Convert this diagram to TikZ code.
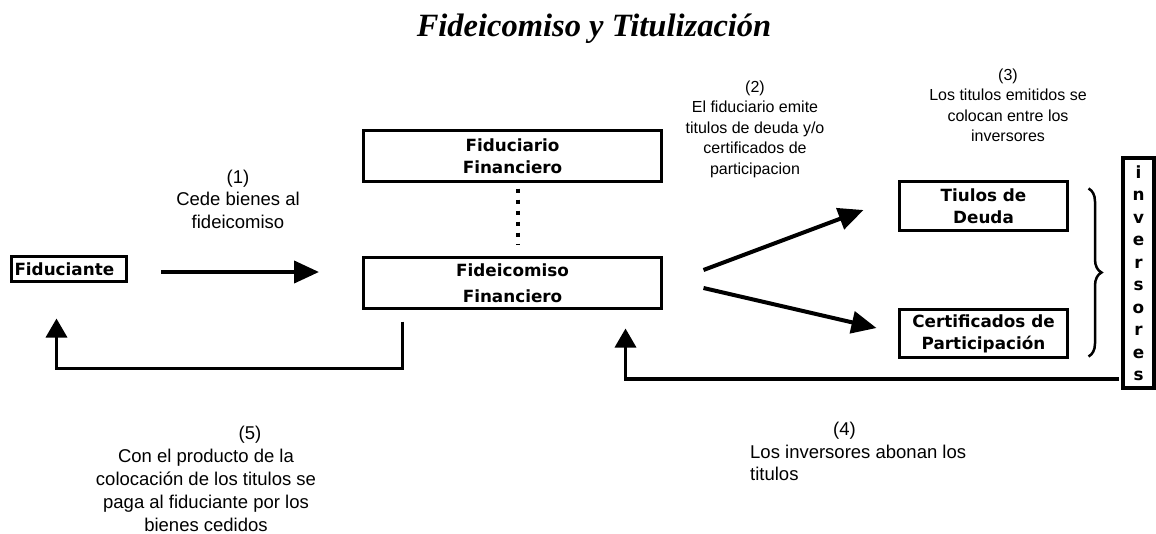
\documentclass[tikz,border=0pt]{standalone}
\usepackage{fontspec}
\setmainfont{Liberation Sans}
\newfontfamily\titulo{Liberation Serif}
\newfontfamily\cajafont{DejaVu Sans}
\usetikzlibrary{arrows.meta,decorations.pathreplacing}

\begin{document}
\begin{tikzpicture}[x=1pt,y=-1pt,
    caja/.style={draw,line width=3pt,inner sep=0pt,align=center,
      font=\cajafont\bfseries\fontsize{16.8}{22}\selectfont},
    nota/.style={inner sep=0pt,align=center,font=\fontsize{18.5}{22.5}\selectfont},
    notachica/.style={inner sep=0pt,align=center,font=\fontsize{16}{20.5}\selectfont},
    flecha/.style={line width=4pt,-{Triangle[length=25pt,width=22pt]}},
    retorno/.style={line width=3.5pt,-{Triangle[length=19pt,width=21pt]}}]
\useasboundingbox (0,0) rectangle (1156,533);
\node[font=\titulo\bfseries\itshape\fontsize{32.5}{38}\selectfont] (titulo) at (594,29)
  {Fideicomiso y Titulización};

% cajas
\node[caja,text width=109pt,align=left,inner xsep=3pt,minimum height=25pt]
  (fiduciante) at (69,269) {Fiduciante};
\node[caja,minimum width=298pt,minimum height=51pt] (fiduciario) at (512.5,156)
  {Fiduciario\\Financiero};
\node[caja,minimum width=298pt,minimum height=51pt,
  font=\cajafont\bfseries\fontsize{16.8}{26}\selectfont] (fideicomiso) at (512.5,283)
  {Fideicomiso\\Financiero};
\node[caja,minimum width=168pt,minimum height=49pt] (deuda) at (983.5,206)
  {Tiulos de\\Deuda};
\node[caja,minimum width=168pt,minimum height=48pt] (certificados) at (983.5,333.5)
  {Certificados de\\Participación};
\node[caja,line width=4pt,minimum width=31pt,minimum height=230pt,
  font=\cajafont\bfseries\fontsize{16.8}{22.5}\selectfont] (inversores) at (1138.5,273)
  {i\\n\\v\\e\\r\\s\\o\\r\\e\\s};

% pasos
\node[nota] (paso1) at (238,199) {(1)\\Cede bienes al\\fideicomiso};
\node[notachica] (paso2) at (755,129)
  {(2)\\El fiduciario emite\\titulos de deuda y/o\\certificados de\\participacion};
\node[notachica] (paso3) at (1008,105.5)
  {(3)\\Los titulos emitidos se\\colocan entre los\\inversores};
\node[nota,align=left,anchor=west] (paso4) at (750,451.5)
  {\hspace*{83pt}(4)\\Los inversores abonan los\\titulos};
\node[nota,font=\fontsize{18.5}{23}\selectfont] (paso5) at (206,478.5)
  {\hspace*{88pt}(5)\\Con el producto de la\\colocación de los titulos se\\paga al fiduciante por los\\bienes cedidos};

% flechas
\coordinate (llega1) at ([shift={(-43,-11)}]fideicomiso.west);
\draw[flecha] ([shift={(33,3)}]fiduciante.east) -- (llega1);
\draw[line width=4pt,dash pattern=on 4pt off 7pt,shorten <=5.5pt,shorten >=11.5pt]
  ([shift={(5.5,0)}]fiduciario.south) -- ([shift={(5.5,0)}]fideicomiso.north);
\draw[flecha] ([shift={(40.5,-13)}]fideicomiso.east) -- ([shift={(-34.5,4)}]deuda.west);
\draw[flecha] ([shift={(40.5,5)}]fideicomiso.east) -- ([shift={(-21.5,-5.5)}]certificados.west);
\draw[line width=2.5pt,decorate,decoration={brace,amplitude=13pt}]
  ([shift={(19.5,8.5)}]deuda.north east) -- ([shift={(19.5,-2.5)}]certificados.south east);
\draw[retorno] ([shift={(-2,-11)}]inversores.south west)
  -| ([shift={(-37.5,18.5)}]fideicomiso.south east);
\draw[retorno] ([shift={(40.5,11.5)}]fideicomiso.south west) -- ++(0,47)
  -| ([shift={(46.5,35.5)}]fiduciante.south west);
\end{tikzpicture}
\end{document}
